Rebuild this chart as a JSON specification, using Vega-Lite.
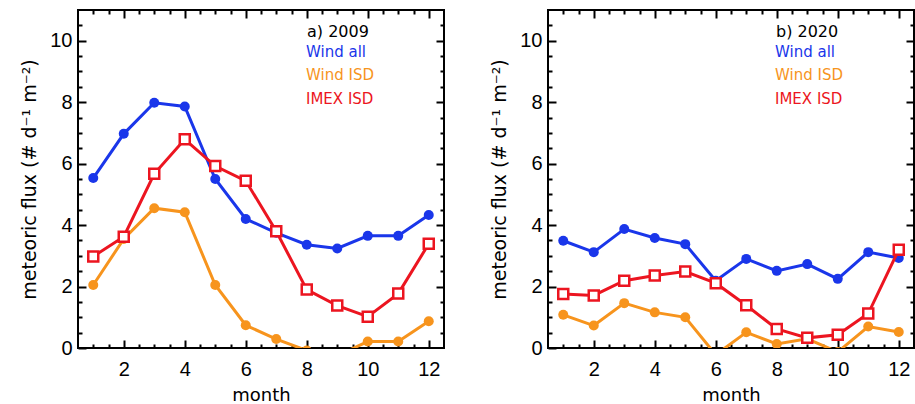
{
  "$schema": "https://vega.github.io/schema/vega-lite/v6.json",
  "background": "white",
  "padding": {"left": 19, "top": 8, "right": 0, "bottom": 0},
  "config": {
    "view": {"stroke": "black", "strokeWidth": 2},
    "axis": {"domain": false, "grid": false, "zindex": 1, "tickColor": "black", "tickWidth": 2, "labelFont": "Liberation Sans", "labelFontSize": 20, "labelColor": "black", "titleFont": "DejaVu Sans", "titleFontSize": 18, "titleFontWeight": "normal", "titleColor": "black", "labelOverlap": false, "labelFlush": false, "format": "d"},
    "legend": {"titleFont": "DejaVu Sans", "titleFontSize": 16, "titleFontWeight": "normal", "titleColor": "black", "labelFont": "DejaVu Sans", "labelFontSize": 15, "symbolSize": 0, "symbolStrokeWidth": 0, "symbolOpacity": 0, "rowPadding": 7.5, "titlePadding": 4}
  },
  "data": {"values": [
    {"panel": "a", "series": "Wind all", "month": 1, "flux": 5.53},
    {"panel": "a", "series": "Wind all", "month": 2, "flux": 6.97},
    {"panel": "a", "series": "Wind all", "month": 3, "flux": 7.98},
    {"panel": "a", "series": "Wind all", "month": 4, "flux": 7.86},
    {"panel": "a", "series": "Wind all", "month": 5, "flux": 5.5},
    {"panel": "a", "series": "Wind all", "month": 6, "flux": 4.2},
    {"panel": "a", "series": "Wind all", "month": 7, "flux": 3.75},
    {"panel": "a", "series": "Wind all", "month": 8, "flux": 3.36},
    {"panel": "a", "series": "Wind all", "month": 9, "flux": 3.24},
    {"panel": "a", "series": "Wind all", "month": 10, "flux": 3.65},
    {"panel": "a", "series": "Wind all", "month": 11, "flux": 3.65},
    {"panel": "a", "series": "Wind all", "month": 12, "flux": 4.33},
    {"panel": "a", "series": "Wind ISD", "month": 1, "flux": 2.05},
    {"panel": "a", "series": "Wind ISD", "month": 2, "flux": 3.55},
    {"panel": "a", "series": "Wind ISD", "month": 3, "flux": 4.55},
    {"panel": "a", "series": "Wind ISD", "month": 4, "flux": 4.42},
    {"panel": "a", "series": "Wind ISD", "month": 5, "flux": 2.05},
    {"panel": "a", "series": "Wind ISD", "month": 6, "flux": 0.74},
    {"panel": "a", "series": "Wind ISD", "month": 7, "flux": 0.29},
    {"panel": "a", "series": "Wind ISD", "month": 8, "flux": -0.08},
    {"panel": "a", "series": "Wind ISD", "month": 9, "flux": -0.25},
    {"panel": "a", "series": "Wind ISD", "month": 10, "flux": 0.21},
    {"panel": "a", "series": "Wind ISD", "month": 11, "flux": 0.21},
    {"panel": "a", "series": "Wind ISD", "month": 12, "flux": 0.87},
    {"panel": "a", "series": "IMEX ISD", "month": 1, "flux": 2.98},
    {"panel": "a", "series": "IMEX ISD", "month": 2, "flux": 3.62},
    {"panel": "a", "series": "IMEX ISD", "month": 3, "flux": 5.67},
    {"panel": "a", "series": "IMEX ISD", "month": 4, "flux": 6.79},
    {"panel": "a", "series": "IMEX ISD", "month": 5, "flux": 5.92},
    {"panel": "a", "series": "IMEX ISD", "month": 6, "flux": 5.44},
    {"panel": "a", "series": "IMEX ISD", "month": 7, "flux": 3.8},
    {"panel": "a", "series": "IMEX ISD", "month": 8, "flux": 1.9},
    {"panel": "a", "series": "IMEX ISD", "month": 9, "flux": 1.38},
    {"panel": "a", "series": "IMEX ISD", "month": 10, "flux": 1.02},
    {"panel": "a", "series": "IMEX ISD", "month": 11, "flux": 1.77},
    {"panel": "a", "series": "IMEX ISD", "month": 12, "flux": 3.39},
    {"panel": "b", "series": "Wind all", "month": 1, "flux": 3.49},
    {"panel": "b", "series": "Wind all", "month": 2, "flux": 3.12},
    {"panel": "b", "series": "Wind all", "month": 3, "flux": 3.87},
    {"panel": "b", "series": "Wind all", "month": 4, "flux": 3.58},
    {"panel": "b", "series": "Wind all", "month": 5, "flux": 3.38},
    {"panel": "b", "series": "Wind all", "month": 6, "flux": 2.19},
    {"panel": "b", "series": "Wind all", "month": 7, "flux": 2.9},
    {"panel": "b", "series": "Wind all", "month": 8, "flux": 2.51},
    {"panel": "b", "series": "Wind all", "month": 9, "flux": 2.73},
    {"panel": "b", "series": "Wind all", "month": 10, "flux": 2.25},
    {"panel": "b", "series": "Wind all", "month": 11, "flux": 3.12},
    {"panel": "b", "series": "Wind all", "month": 12, "flux": 2.93},
    {"panel": "b", "series": "Wind ISD", "month": 1, "flux": 1.08},
    {"panel": "b", "series": "Wind ISD", "month": 2, "flux": 0.73},
    {"panel": "b", "series": "Wind ISD", "month": 3, "flux": 1.46},
    {"panel": "b", "series": "Wind ISD", "month": 4, "flux": 1.16},
    {"panel": "b", "series": "Wind ISD", "month": 5, "flux": 1.0},
    {"panel": "b", "series": "Wind ISD", "month": 6, "flux": -0.22},
    {"panel": "b", "series": "Wind ISD", "month": 7, "flux": 0.51},
    {"panel": "b", "series": "Wind ISD", "month": 8, "flux": 0.13},
    {"panel": "b", "series": "Wind ISD", "month": 9, "flux": 0.3},
    {"panel": "b", "series": "Wind ISD", "month": 10, "flux": -0.13},
    {"panel": "b", "series": "Wind ISD", "month": 11, "flux": 0.7},
    {"panel": "b", "series": "Wind ISD", "month": 12, "flux": 0.52},
    {"panel": "b", "series": "IMEX ISD", "month": 1, "flux": 1.76},
    {"panel": "b", "series": "IMEX ISD", "month": 2, "flux": 1.71},
    {"panel": "b", "series": "IMEX ISD", "month": 3, "flux": 2.19},
    {"panel": "b", "series": "IMEX ISD", "month": 4, "flux": 2.36},
    {"panel": "b", "series": "IMEX ISD", "month": 5, "flux": 2.49},
    {"panel": "b", "series": "IMEX ISD", "month": 6, "flux": 2.11},
    {"panel": "b", "series": "IMEX ISD", "month": 7, "flux": 1.39},
    {"panel": "b", "series": "IMEX ISD", "month": 8, "flux": 0.62},
    {"panel": "b", "series": "IMEX ISD", "month": 9, "flux": 0.33},
    {"panel": "b", "series": "IMEX ISD", "month": 10, "flux": 0.43},
    {"panel": "b", "series": "IMEX ISD", "month": 11, "flux": 1.12},
    {"panel": "b", "series": "IMEX ISD", "month": 12, "flux": 3.2}
  ]},
  "spacing": 43,
  "resolve": {"scale": {"color": "shared"}, "legend": {"color": "independent"}},
  "hconcat": [
    {
      "width": 366, "height": 338,
      "transform": [{"filter": "datum.panel === 'a'"}],
      "encoding": {
        "color": {"field": "series", "type": "nominal", "scale": {"domain": ["Wind all", "Wind ISD", "IMEX ISD"], "range": ["#1a36ea", "#f7941d", "#ec1520"]},
          "legend": {"title": "a) 2009", "orient": "none", "legendX": 229, "legendY": 14, "symbolSize": 0, "labelOffset": -16, "encode": {"labels": {"update": {"fill": {"scale": "color", "field": "value"}}}}}}
      },
      "layer": [
        {"transform": [{"filter": "datum.series !== 'IMEX ISD'"}],
         "mark": {"type": "line", "strokeWidth": 3, "clip": true},
         "encoding": {
           "x": {"field": "month", "type": "quantitative", "scale": {"domain": [0.5, 12.5], "nice": false, "zero": false},
             "axis": {"orient": "bottom", "title": "month", "values": [2,4,6,8,10,12], "offset": -8, "tickSize": 8, "labelPadding": 11, "titlePadding": 7}},
           "y": {"field": "flux", "type": "quantitative", "scale": {"domain": [0, 11], "nice": false, "zero": false},
             "axis": {"orient": "left", "title": "meteoric flux (# d⁻¹ m⁻²)", "titleFontSize": 19, "values": [0,2,4,6,8,10], "offset": -8, "tickSize": 8, "labelPadding": 6, "titlePadding": 10}}
         }},
        {"transform": [{"filter": "datum.series !== 'IMEX ISD'"}],
         "mark": {"type": "circle", "size": 100, "opacity": 1, "clip": true},
         "encoding": {
           "x": {"field": "month", "type": "quantitative", "scale": {"domain": [0.5, 12.5], "nice": false, "zero": false},
             "axis": {"orient": "bottom", "title": null, "labels": false, "values": [1,1.5,2.5,3,3.5,4.5,5,5.5,6.5,7,7.5,8.5,9,9.5,10.5,11,11.5], "offset": -4, "tickSize": 4}},
           "y": {"field": "flux", "type": "quantitative", "scale": {"domain": [0, 11], "nice": false, "zero": false},
             "axis": {"orient": "left", "title": null, "labels": false, "values": [0.5,1,1.5,2.5,3,3.5,4.5,5,5.5,6.5,7,7.5,8.5,9,9.5,10.5], "offset": -4, "tickSize": 4}}
         }},
        {"transform": [{"filter": "datum.series === 'IMEX ISD'"}],
         "mark": {"type": "line", "strokeWidth": 3, "clip": true},
         "encoding": {
           "x": {"field": "month", "type": "quantitative", "scale": {"domain": [0.5, 12.5], "nice": false, "zero": false},
             "axis": {"orient": "top", "title": null, "labels": false, "values": [2,4,6,8,10,12], "offset": -8, "tickSize": 8}},
           "y": {"field": "flux", "type": "quantitative", "scale": {"domain": [0, 11], "nice": false, "zero": false},
             "axis": {"orient": "right", "title": null, "labels": false, "values": [2,4,6,8,10], "offset": -8, "tickSize": 8}}
         }},
        {"transform": [{"filter": "datum.series === 'IMEX ISD'"}],
         "mark": {"type": "point", "shape": "square", "size": 100, "filled": false, "fill": "white", "fillOpacity": 1, "strokeWidth": 2.5, "opacity": 1, "clip": true},
         "encoding": {
           "x": {"field": "month", "type": "quantitative", "scale": {"domain": [0.5, 12.5], "nice": false, "zero": false},
             "axis": {"orient": "top", "title": null, "labels": false, "values": [1,1.5,2.5,3,3.5,4.5,5,5.5,6.5,7,7.5,8.5,9,9.5,10.5,11,11.5], "offset": -4, "tickSize": 4}},
           "y": {"field": "flux", "type": "quantitative", "scale": {"domain": [0, 11], "nice": false, "zero": false},
             "axis": {"orient": "right", "title": null, "labels": false, "values": [0.5,1,1.5,2.5,3,3.5,4.5,5,5.5,6.5,7,7.5,8.5,9,9.5,10.5], "offset": -4, "tickSize": 4}}
         }}
      ],
      "resolve": {"axis": {"x": "independent", "y": "independent"}}
    },
    {
      "width": 366, "height": 338,
      "transform": [{"filter": "datum.panel === 'b'"}],
      "encoding": {
        "color": {"field": "series", "type": "nominal", "scale": {"domain": ["Wind all", "Wind ISD", "IMEX ISD"], "range": ["#1a36ea", "#f7941d", "#ec1520"]},
          "legend": {"title": "b) 2020", "orient": "none", "legendX": 228, "legendY": 14, "symbolSize": 0, "labelOffset": -16, "encode": {"labels": {"update": {"fill": {"scale": "color", "field": "value"}}}}}}
      },
      "layer": [
        {"transform": [{"filter": "datum.series !== 'IMEX ISD'"}],
         "mark": {"type": "line", "strokeWidth": 3, "clip": true},
         "encoding": {
           "x": {"field": "month", "type": "quantitative", "scale": {"domain": [0.5, 12.5], "nice": false, "zero": false},
             "axis": {"orient": "bottom", "title": "month", "values": [2,4,6,8,10,12], "offset": -8, "tickSize": 8, "labelPadding": 11, "titlePadding": 7}},
           "y": {"field": "flux", "type": "quantitative", "scale": {"domain": [0, 11], "nice": false, "zero": false},
             "axis": {"orient": "left", "title": "meteoric flux (# d⁻¹ m⁻²)", "titleFontSize": 19, "values": [0,2,4,6,8,10], "offset": -8, "tickSize": 8, "labelPadding": 6, "titlePadding": 10}}
         }},
        {"transform": [{"filter": "datum.series !== 'IMEX ISD'"}],
         "mark": {"type": "circle", "size": 100, "opacity": 1, "clip": true},
         "encoding": {
           "x": {"field": "month", "type": "quantitative", "scale": {"domain": [0.5, 12.5], "nice": false, "zero": false},
             "axis": {"orient": "bottom", "title": null, "labels": false, "values": [1,1.5,2.5,3,3.5,4.5,5,5.5,6.5,7,7.5,8.5,9,9.5,10.5,11,11.5], "offset": -4, "tickSize": 4}},
           "y": {"field": "flux", "type": "quantitative", "scale": {"domain": [0, 11], "nice": false, "zero": false},
             "axis": {"orient": "left", "title": null, "labels": false, "values": [0.5,1,1.5,2.5,3,3.5,4.5,5,5.5,6.5,7,7.5,8.5,9,9.5,10.5], "offset": -4, "tickSize": 4}}
         }},
        {"transform": [{"filter": "datum.series === 'IMEX ISD'"}],
         "mark": {"type": "line", "strokeWidth": 3, "clip": true},
         "encoding": {
           "x": {"field": "month", "type": "quantitative", "scale": {"domain": [0.5, 12.5], "nice": false, "zero": false},
             "axis": {"orient": "top", "title": null, "labels": false, "values": [2,4,6,8,10,12], "offset": -8, "tickSize": 8}},
           "y": {"field": "flux", "type": "quantitative", "scale": {"domain": [0, 11], "nice": false, "zero": false},
             "axis": {"orient": "right", "title": null, "labels": false, "values": [2,4,6,8,10], "offset": -8, "tickSize": 8}}
         }},
        {"transform": [{"filter": "datum.series === 'IMEX ISD'"}],
         "mark": {"type": "point", "shape": "square", "size": 100, "filled": false, "fill": "white", "fillOpacity": 1, "strokeWidth": 2.5, "opacity": 1, "clip": true},
         "encoding": {
           "x": {"field": "month", "type": "quantitative", "scale": {"domain": [0.5, 12.5], "nice": false, "zero": false},
             "axis": {"orient": "top", "title": null, "labels": false, "values": [1,1.5,2.5,3,3.5,4.5,5,5.5,6.5,7,7.5,8.5,9,9.5,10.5,11,11.5], "offset": -4, "tickSize": 4}},
           "y": {"field": "flux", "type": "quantitative", "scale": {"domain": [0, 11], "nice": false, "zero": false},
             "axis": {"orient": "right", "title": null, "labels": false, "values": [0.5,1,1.5,2.5,3,3.5,4.5,5,5.5,6.5,7,7.5,8.5,9,9.5,10.5], "offset": -4, "tickSize": 4}}
         }}
      ],
      "resolve": {"axis": {"x": "independent", "y": "independent"}}
    }
  ]
}
